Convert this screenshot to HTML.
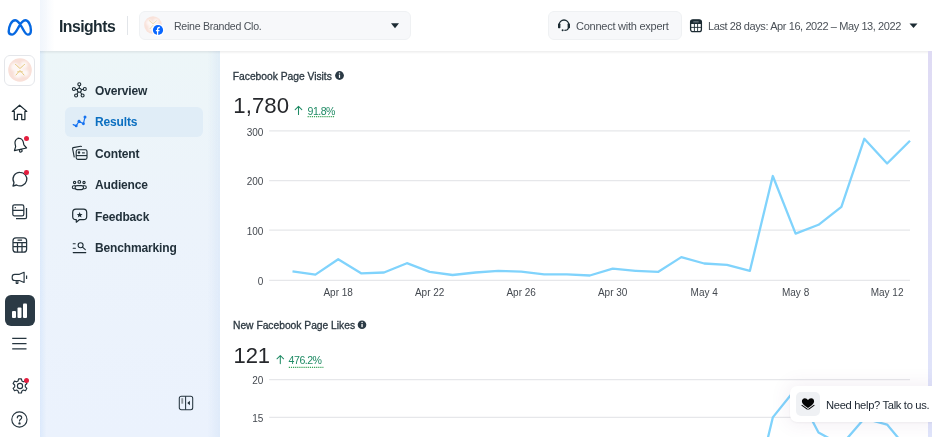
<!DOCTYPE html>
<html><head><meta charset="utf-8">
<style>
*{box-sizing:border-box;margin:0;padding:0}
html,body{width:932px;height:437px;overflow:hidden;background:#fff;font-family:"Liberation Sans",sans-serif;color:#1c2b33}
.a{position:absolute}
body>*{will-change:transform}
#rail{left:0;top:0;width:40px;height:437px;background:#fff}
#hdr{left:40px;top:0;width:892px;height:51px;background:#fff}
#side{left:40px;top:51px;width:180px;height:386px;background:linear-gradient(180deg,#edf6f8 0%,#ecf3fb 45%,#ebf2fd 100%)}
#main{left:220px;top:51px;width:712px;height:386px;background:#fff}
.nav{position:absolute;left:95px;font-weight:bold;font-size:12px;letter-spacing:-0.15px;color:#22313b;white-space:nowrap}
.ic{position:absolute}
.t{position:absolute;white-space:nowrap}
</style></head><body>
<div id="rail" class="a"></div>
<div id="hdr" class="a"></div>
<div id="side" class="a"></div>
<div class="a" style="left:40px;top:51px;width:180px;height:386px;background:linear-gradient(90deg,rgba(200,222,250,0.45) 0px,rgba(205,225,245,0) 6px,rgba(205,225,245,0) 168px,rgba(200,220,245,0.35) 180px)"></div>
<div id="main" class="a"></div>

<div class="a" style="left:40px;top:51px;width:892px;height:3px;background:linear-gradient(180deg,rgba(0,0,0,0.07),rgba(0,0,0,0))"></div>
<!-- Meta logo -->
<svg class="ic" style="left:6px;top:17px" width="28" height="21" viewBox="0 0 28 21">
<path d="M2.7 14.6C2.7 9.4 5.4 3.2 9.2 3.2C12.2 3.2 14.2 7 16.2 10.7C18.2 14.4 19.6 17.6 21.8 17.6C23.7 17.6 24.9 15.8 24.9 13.2C24.9 8.2 22.5 3.2 19.2 3.2C16.6 3.2 14.6 6.4 12.6 10.1C10.6 13.8 8.9 17.6 6.2 17.6C3.9 17.6 2.7 16.2 2.7 14.6Z" fill="none" stroke="#0668e1" stroke-width="2.4" stroke-linejoin="round"/>
</svg>
<!-- avatar box -->
<div class="a" style="left:4px;top:55px;width:31px;height:31px;border:1px solid #e4e6ea;border-radius:6px;background:#fff"></div>
<svg class="ic" style="left:8px;top:58px" width="24" height="24" viewBox="0 0 24 24">
<defs><filter id="bl" x="-20%" y="-20%" width="140%" height="140%"><feGaussianBlur stdDeviation="1.3"/></filter><clipPath id="cc"><circle cx="12" cy="12" r="11.8"/></clipPath></defs>
<circle cx="12" cy="12" r="11.8" fill="#f9e0d8"/>
<g clip-path="url(#cc)" filter="url(#bl)" fill="#fff" opacity="0.75"><circle cx="7" cy="9" r="4"/><circle cx="16" cy="7" r="3.5"/><circle cx="10" cy="16" r="4"/><circle cx="17" cy="15" r="3.5"/><circle cx="12" cy="12" r="3"/></g>
<g fill="none" stroke="#e2c36f" stroke-width="0.9" stroke-linecap="round"><path d="M7.5 6.5C9.5 8 10.8 9.5 12 10.5C13.2 9.5 14.5 8 16.5 6.5"/><path d="M8 17C9.8 15 11 13.5 12 12.5C13 13.5 14.2 15 16 17"/><path d="M9.5 13.8h5" stroke-width="0.7"/></g>
</svg>

<!-- rail icons -->
<svg class="ic" style="left:0;top:95px" width="40" height="30" viewBox="0 95 40 30" fill="none" stroke="#1c2b33" stroke-width="1.25" stroke-linejoin="round"><path d="M12.3 111.4L19.6 105.2L26.8 111.4H24.9V119.5H21.7V114.4H17.4V119.5H14.3V111.4Z"/></svg>
<svg class="ic" style="left:0;top:130px" width="40" height="30" viewBox="0 130 40 30" fill="none" stroke="#1c2b33" stroke-width="1.2" stroke-linejoin="round"><g transform="rotate(-12 19.5 145)"><path d="M19.6 138.4c-2.6 0-4.2 2.2-4.2 4.7v2.7l-2 3.6h12.4l-2-3.6v-2.7c0-2.5-1.6-4.7-4.2-4.7zM19.6 138.4v-.9"/><circle cx="19.6" cy="150.9" r="1.3"/></g></svg>
<div class="a" style="left:24px;top:136px;width:5px;height:5px;border-radius:50%;background:#e41e3f"></div>
<svg class="ic" style="left:11px;top:170px" width="18" height="18" viewBox="0 0 18 18" fill="none" stroke="#26353f" stroke-width="1.3" stroke-linejoin="round"><path d="M9 2.3a6.8 6.8 0 1 1-3.4 12.7L2 16l1-3.4A6.8 6.8 0 0 1 9 2.3z"/></svg>
<div class="a" style="left:24px;top:169.5px;width:4.5px;height:4.5px;border-radius:50%;background:#e41e3f"></div>
<svg class="ic" style="left:11px;top:203px" width="18" height="18" viewBox="0 0 18 18" fill="none" stroke="#26353f" stroke-width="1.25" stroke-linejoin="round"><rect x="1.8" y="1.8" width="11" height="11" rx="1.6"/><path d="M1.8 7.3h11M4.3 4v1.3"/><path d="M15.5 5v9.2c0 .8-.6 1.3-1.3 1.3H5"/></svg>
<svg class="ic" style="left:11px;top:236px" width="18" height="18" viewBox="0 0 18 18" fill="none" stroke="#26353f" stroke-width="1.25" stroke-linejoin="round"><rect x="2" y="1.8" width="13.6" height="14.4" rx="3"/><path d="M2 6.5h13.6M2 10.6h13.6M6.5 6.5v9.7M11 6.5v9.7M6.5 4.1h4.6"/></svg>
<svg class="ic" style="left:0;top:265px" width="40" height="25" viewBox="0 265 40 25" fill="none" stroke="#26353f" stroke-width="1.15" stroke-linejoin="round"><path d="M14.8 274.3h4.6l4.7-2v10.2l-4.7-2h-4.6c-1.5 0-2.6-1.2-2.6-2.6v-1c0-1.5 1.1-2.6 2.6-2.6z"/><path d="M16.2 280.5v2.8h1.7v-2.8M26.6 275.5v3.4"/></svg>
<div class="a" style="left:4.5px;top:295px;width:29.5px;height:31px;border-radius:6px;background:#2b3a45"></div>
<svg class="ic" style="left:11px;top:302px" width="17" height="17" viewBox="0 0 17 17" fill="#fff"><rect x="1" y="9" width="4" height="7" rx="1"/><rect x="6.5" y="5.5" width="4" height="10.5" rx="1"/><rect x="12" y="1.5" width="4" height="14.5" rx="1"/></svg>
<svg class="ic" style="left:0;top:330px" width="40" height="25" viewBox="0 330 40 25" fill="none" stroke="#26353f" stroke-width="1.15"><path d="M12.2 338.4h14.3M12.2 343.6h14.3M12.2 348.8h14.3"/></svg>
<svg class="ic" style="left:11px;top:377px" width="18" height="18" viewBox="0 0 18 18" fill="none" stroke="#26353f" stroke-width="1.15" stroke-linejoin="round"><path d="M7.6 1.8h2.8l.5 2.1 1.5.9 2.1-.7 1.4 2.4-1.6 1.5v1.8l1.6 1.5-1.4 2.4-2.1-.7-1.5.9-.5 2.1H7.6l-.5-2.1-1.5-.9-2.1.7-1.4-2.4 1.6-1.5V8l-1.6-1.5 1.4-2.4 2.1.7 1.5-.9z"/><circle cx="9" cy="9" r="2.6"/></svg>
<div class="a" style="left:23.5px;top:377.5px;width:5px;height:5px;border-radius:50%;background:#e41e3f"></div>
<svg class="ic" style="left:11px;top:411px" width="18" height="18" viewBox="0 0 18 18" fill="none" stroke="#26353f" stroke-width="1.15"><circle cx="8.4" cy="8.5" r="7.6"/><path d="M6.3 6.8c0-1.3 1-2.2 2.2-2.2s2.2.9 2.2 2.1c0 1.5-2.2 1.6-2.2 3.3" stroke-linecap="round"/><circle cx="8.5" cy="12.4" r=".6" fill="#1c2b33"/></svg>


<!-- header -->
<div class="a" style="left:40px;top:0;width:14px;height:51px;background:linear-gradient(90deg,rgba(225,235,248,0.5),rgba(255,255,255,0))"></div>
<div class="t" style="left:58.5px;top:17.5px;font-weight:bold;font-size:15.8px;letter-spacing:-0.55px;color:#1c2b33">Insights</div>
<div class="a" style="left:127px;top:16px;width:1px;height:19px;background:#e2e5e9"></div>
<div class="a" style="left:139px;top:11px;width:272px;height:29px;border-radius:6px;background:#f7f8fa;border:1px solid #eff1f3"></div>
<svg class="ic" style="left:144px;top:16px" width="18" height="18" viewBox="0 0 24 24">
<defs><clipPath id="cc2"><circle cx="12" cy="12" r="11.8"/></clipPath></defs>
<circle cx="12" cy="12" r="11.8" fill="#f9e2da"/>
<g clip-path="url(#cc2)" filter="url(#bl)" fill="#fff" opacity="0.75"><circle cx="7" cy="9" r="4"/><circle cx="16" cy="7" r="3.5"/><circle cx="10" cy="16" r="4"/><circle cx="17" cy="15" r="3.5"/><circle cx="12" cy="12" r="3"/></g>
<g fill="none" stroke="#e6cf8a" stroke-width="1.1" stroke-linecap="round" opacity="0.85"><path d="M7.5 6.5C9.5 8 10.8 9.5 12 10.5C13.2 9.5 14.5 8 16.5 6.5"/><path d="M8 17C9.8 15 11 13.5 12 12.5C13 13.5 14.2 15 16 17"/></g>
</svg>
<svg class="ic" style="left:151px;top:23px" width="14" height="14" viewBox="0 0 14 14"><circle cx="7" cy="7" r="6.3" fill="#fff"/><circle cx="7" cy="7" r="5.1" fill="#0866ff"/><path d="M6.6 12.1V7.4M4.9 7.6h3.6M6.6 8V6.2c0-1.1.5-1.7 1.6-1.7h.6" stroke="#fff" stroke-width="1.3" fill="none"/></svg>
<div class="t" style="left:174px;top:19.5px;font-size:10.6px;letter-spacing:-0.28px;color:#4b5158">Reine Branded Clo.</div>
<svg class="ic" style="left:391px;top:23px" width="8" height="6" viewBox="0 0 8 6"><path d="M0 0.3h8L4 5.3z" fill="#1c2b33"/></svg>

<div class="a" style="left:548px;top:11px;width:134px;height:29px;border-radius:6px;background:#f7f8fa;border:1px solid #eff1f3"></div>
<svg class="ic" style="left:557px;top:18px" width="14" height="14" viewBox="0 0 14 14" fill="none" stroke="#1c2b33" stroke-width="1.3"><path d="M2.2 7.5V6.8a4.8 4.8 0 0 1 9.6 0v.7"/><rect x="1" y="5.6" width="2.4" height="4.6" rx="0.6" fill="#1c2b33" stroke="none"/><rect x="10.6" y="5.6" width="2.4" height="4.6" rx="0.6" fill="#1c2b33" stroke="none"/><path d="M11.4 10c-.3 1.6-1.8 2.4-4 2.4"/><circle cx="5.6" cy="12.2" r="1" fill="#1c2b33" stroke="none"/></svg>
<div class="t" style="left:576px;top:20px;font-size:11px;letter-spacing:-0.25px;color:#4b5158">Connect with expert</div>

<svg class="ic" style="left:689px;top:18px" width="14" height="15" viewBox="0 0 14 15" fill="none" stroke="#1c2b33"><rect x="1.6" y="1.8" width="10.8" height="11.8" rx="2.2" stroke-width="1.3"/><path d="M1.7 4c0-1.2 1-2.2 2.2-2.2h6.2c1.2 0 2.2 1 2.2 2.2v2H1.7z" fill="#1c2b33" stroke="none"/><path d="M4.3 3.9h5.4" stroke="#8a949c" stroke-width="0.9"/><path d="M1.7 9.4h10.6M5.4 6v7.6M8.6 6v7.6" stroke-width="0.9"/></svg>
<div class="t" style="left:708px;top:20px;font-size:11px;letter-spacing:-0.41px;color:#4b5158">Last 28 days: Apr 16, 2022 – May 13, 2022</div>
<svg class="ic" style="left:909px;top:23px" width="9" height="6" viewBox="0 0 9 6"><path d="M0.5 0.6h8L4.5 5z" fill="#1c2b33"/></svg>

<!-- sidebar nav -->
<div class="a" style="left:64.5px;top:106.5px;width:137.8px;height:30px;border-radius:6px;background:#e0edf7"></div>
<div class="nav" style="top:84.3px">Overview</div>
<div class="nav" style="top:115.2px;color:#0b6fc0">Results</div>
<div class="nav" style="top:147.1px">Content</div>
<div class="nav" style="top:178px">Audience</div>
<div class="nav" style="top:209.9px">Feedback</div>
<div class="nav" style="top:241.3px">Benchmarking</div>

<svg class="ic" style="left:68px;top:78px" width="24" height="24" viewBox="68 78 24 24" fill="none" stroke="#1c2b33" stroke-width="1.1">
<path d="M79.3 88.2V85.8M77.4 89.8L75.4 89.3M81.2 89.8L83.3 89.3M78.2 92.2L76.9 94.2M80.4 92.2L81.8 94.2"/>
<circle cx="79.3" cy="90.3" r="2"/><circle cx="79.3" cy="84.2" r="1.5"/><circle cx="73.9" cy="89" r="1.5"/><circle cx="84.8" cy="89" r="1.5"/><circle cx="76.1" cy="95.5" r="1.5"/><circle cx="82.6" cy="95.5" r="1.5"/>
</svg>
<svg class="ic" style="left:68px;top:110px" width="24" height="24" viewBox="68 110 24 24" fill="none" stroke="#1673f0" stroke-width="1.15" stroke-linejoin="round" stroke-linecap="round">
<path d="M73.2 124.6L76.2 125.9L79 121.3L83.4 123.7L85 117.1"/>
<g fill="#1673f0" stroke="none"><circle cx="76.2" cy="125.9" r="1.45"/><circle cx="79" cy="121.3" r="1.45"/><circle cx="83.4" cy="123.7" r="1.45"/><circle cx="85" cy="117.1" r="1.5"/></g>
</svg>
<svg class="ic" style="left:68px;top:141px" width="24" height="24" viewBox="68 141 24 24" fill="none" stroke="#1c2b33" stroke-width="1.1" stroke-linejoin="round">
<path d="M74.3 157.3L72.6 148.6c-.1-.5.2-.9.7-1L80.6 146.3c.5-.1.9.2 1 .6"/>
<rect x="76.2" y="149.8" width="10.8" height="9.6" rx="1.6"/><path d="M76.2 155.6h10.8"/><circle cx="79" cy="152.6" r=".7" fill="#1c2b33"/><path d="M82 152.9h2.8"/>
</svg>
<svg class="ic" style="left:68px;top:172px" width="24" height="24" viewBox="68 172 24 24" fill="none" stroke="#1c2b33" stroke-width="1.1">
<circle cx="74.6" cy="182.5" r="1.15"/><circle cx="79.3" cy="181.9" r="1.35"/><circle cx="84" cy="182.5" r="1.15"/>
<path d="M77.2 185.6h4.2c1.2 0 2.1.9 2.1 2s-.9 2-2.1 2h-4.2c-1.2 0-2.1-.9-2.1-2s.9-2 2.1-2z"/>
<path d="M75.8 185.7h-2c-.9 0-1.5.7-1.5 1.5s.6 1.5 1.5 1.5h1.4M82.8 185.7h2c.9 0 1.5.7 1.5 1.5s-.6 1.5-1.5 1.5h-1.4"/>
</svg>
<svg class="ic" style="left:68px;top:204px" width="24" height="24" viewBox="68 204 24 24" fill="none" stroke="#1c2b33" stroke-width="1.2" stroke-linejoin="round">
<path d="M76 209.2h7.5c1.8 0 3.2 1.4 3.2 3.2v4.1c0 1.8-1.4 3.2-3.2 3.2h-4.2l-3 2.5v-2.5h-.3c-1.8 0-3.3-1.4-3.3-3.2v-4.1c0-1.8 1.4-3.2 3.3-3.2z"/>
<path d="M79.6 212.6l.7 1.5 1.6.1-1.2 1.1.4 1.6-1.5-.9-1.4.9.4-1.6-1.2-1.1 1.6-.1z" fill="#1c2b33" stroke="none" transform="translate(79.6 214.8) scale(1.25) translate(-79.6 -214.8)"/>
</svg>
<svg class="ic" style="left:68px;top:235px" width="24" height="24" viewBox="68 235 24 24" fill="none" stroke="#1c2b33" stroke-width="1.1" stroke-linecap="round">
<path d="M73.2 243.8h2M73.2 248.2h2.2M73.2 252.6h12.6M82.5 247.2l2.8 2.5"/><circle cx="80.6" cy="245.3" r="2.5"/>
</svg>
<!-- collapse icon -->
<svg class="ic" style="left:178px;top:395px" width="16" height="16" viewBox="0 0 16 16" fill="none" stroke="#26353f" stroke-width="1.05">
<rect x="1.3" y="1.3" width="13.4" height="13.4" rx="2"/><path d="M7.6 1.3v13.4"/><rect x="3.3" y="3.2" width="1.9" height="5.5" fill="#8e969c" stroke="none"/><path d="M9.3 8l2.6-2.2v4.4z" fill="#1c2b33" stroke="none"/>
</svg>

<!-- main charts -->
<div class="a" style="left:928px;top:51px;width:4px;height:386px;background:linear-gradient(180deg,#dfdbf4,#e0e5fb)"></div>
<svg class="a" style="left:0;top:0" width="932" height="437" viewBox="0 0 932 437">
<g stroke="#e6e7ea" stroke-width="1.2">
<path d="M269.2 130.9H910M269.2 180.6H910M269.2 230.2H910M269.2 280.3H910M269.2 379.7H910M269.2 417.4H910"/>
</g>
<g font-family="Liberation Sans" font-size="10px" fill="#444950" text-anchor="end">
<text x="263.4" y="135.7">300</text><text x="263.4" y="185.4">200</text><text x="263.4" y="235">100</text><text x="263.4" y="285.1">0</text>
<text x="263.4" y="384.2">20</text><text x="263.4" y="421.8">15</text>
</g>
<g font-family="Liberation Sans" font-size="10px" fill="#444950"><text x="338.2" y="295.5" text-anchor="middle">Apr 18</text><text x="429.7" y="295.5" text-anchor="middle">Apr 22</text><text x="521.2" y="295.5" text-anchor="middle">Apr 26</text><text x="612.7" y="295.5" text-anchor="middle">Apr 30</text><text x="704.2" y="295.5" text-anchor="middle">May 4</text><text x="795.6" y="295.5" text-anchor="middle">May 8</text><text x="887.1" y="295.5" text-anchor="middle">May 12</text></g>
<polyline points="292.5,271.4 315.4,274.6 338.2,259.2 361.1,273.3 384.0,272.5 406.9,263.2 429.7,271.8 452.6,275.0 475.5,272.5 498.3,270.8 521.2,271.6 544.1,274.4 566.9,274.4 589.8,275.5 612.7,268.6 635.6,270.8 658.4,271.8 681.3,257.1 704.2,263.5 727.0,264.8 749.9,270.8 772.8,176.0 795.6,233.6 818.5,224.8 841.4,206.8 864.3,138.8 887.1,163.5 910.0,140.7" fill="none" stroke="#80d3fc" stroke-width="2.3" stroke-linejoin="round"/>
<polyline points="749.9,512.9 772.8,417.4 795.6,389.0 818.5,432.5 841.4,445.0 864.3,418.5 887.1,424.6 910.0,452.0" fill="none" stroke="#80d3fc" stroke-width="2.3" stroke-linejoin="round"/>
<g font-family="Liberation Sans" fill="#1c2b33">
<text x="232.8" y="79.8" font-size="10.3px" letter-spacing="-0.02" fill="#2c3841" stroke="#2c3841" stroke-width="0.3">Facebook Page Visits</text>
<text x="233" y="328.9" font-size="10.3px" letter-spacing="-0.02" fill="#2c3841" stroke="#2c3841" stroke-width="0.3">New Facebook Page Likes</text>
<text x="233.3" y="113.4" font-size="22.2px" fill="#26282c" letter-spacing="0.05">1,780</text>
<text x="233.6" y="362.8" font-size="22px" fill="#26282c" letter-spacing="-0.2">121</text>
</g>
<g fill="#2b3a45"><circle cx="339.5" cy="75.5" r="4.4"/><circle cx="362" cy="324.7" r="4.3"/></g>
<g fill="#fff"><rect x="338.9" y="74.6" width="1.2" height="3.3"/><circle cx="339.5" cy="73.1" r=".72"/><rect x="361.4" y="324" width="1.3" height="3.2"/><circle cx="362.05" cy="322.5" r=".75"/></g>
<g stroke="#208b65" stroke-width="1.05" fill="none" stroke-linecap="round" stroke-linejoin="round">
<path d="M298.5 106.4V114.5M295.2 109.7L298.5 106.4L301.8 109.7"/>
<path d="M280.3 355.5V363.6M277 358.8L280.3 355.5L283.6 358.8"/>
</g>
<g font-family="Liberation Sans" font-size="10.6px" fill="#208b65" letter-spacing="-0.5">
<text x="307.5" y="114.7">91.8%</text><text x="288.6" y="363.6">476.2%</text>
</g>
<g stroke="#3aa55a" stroke-width="1.2" stroke-dasharray="1.2 0.9">
<path d="M307.6 116.6H335M288.8 367.4H323.4"/>
</g>
</svg>

<!-- help popup -->
<div class="a" style="left:790px;top:386px;width:150px;height:36px;border-radius:7px;background:#fff;box-shadow:0 0 18px 3px rgba(110,70,130,0.08),0 1px 3px rgba(0,0,0,0.05)"></div>
<div class="a" style="left:796px;top:392px;width:24px;height:24px;border-radius:5px;background:#eff1f4"></div>
<svg class="ic" style="left:796px;top:392px" width="24" height="24" viewBox="796 392 24 24"><path d="M808 407.9c-2.8-1.9-6.1-3.8-6.1-6.6 0-1.8 1.3-3.1 2.9-3.1 1.4 0 2.5.8 3.2 1.9.7-1.1 1.8-1.9 3.2-1.9 1.6 0 2.9 1.3 2.9 3.1 0 2.8-3.3 4.7-6.1 6.6z" fill="#050505"/><path d="M802 405.4L807.2 409.2M814 405.4L808.8 409.2" fill="none" stroke="#050505" stroke-width="1.05" stroke-linecap="round"/></svg>
<div class="t" style="left:826px;top:398.5px;font-size:11.2px;letter-spacing:-0.33px;color:#1c2530">Need help? Talk to us.</div>
</body></html>
